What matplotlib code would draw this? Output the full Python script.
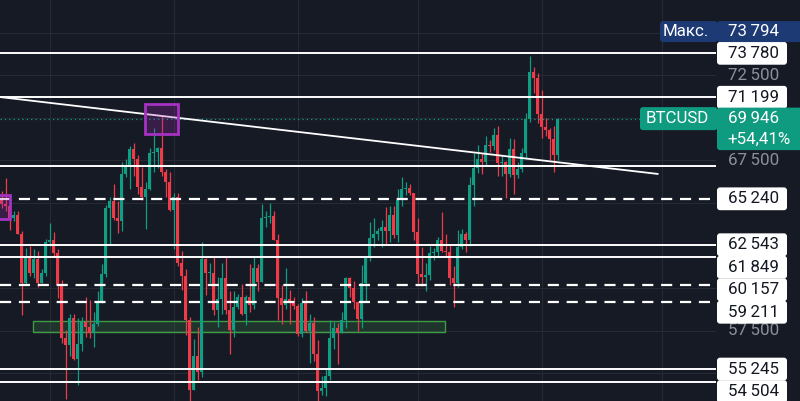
import matplotlib.pyplot as plt
from matplotlib.patches import Rectangle, FancyBboxPatch

# BTCUSD daily candles, 19 Jun .. 5 Nov (index = day number)
opens = [65150, 64960, 64830, 64100, 64260, 63180, 60280, 61800, 60860, 61700,
         60320, 60890, 62680, 62850, 62030, 60200, 57040, 56650, 58230, 55850,
         56700, 58000, 57700, 57360, 57900, 59200, 60800, 64700, 65100, 64100,
         63950, 66700, 67150, 68190, 67600, 65950, 65370, 65800, 67900, 68000,
         68250, 66800, 66200, 64600, 65350, 61500, 60700, 58100, 54000, 56000,
         55100, 61700, 60900, 60900, 58700, 59350, 60600, 58700, 57550, 58900,
         59500, 58450, 59500, 59000, 61150, 60380, 64100, 64180, 64250, 62800,
         59400, 59000, 59350, 59100, 58950, 57300, 59100, 57500, 57970, 56150,
         53950, 54150, 54850, 57050, 57650, 57350, 58130, 60570, 60000, 59190,
         58200, 60300, 61760, 62950, 63200, 63350, 63580, 63330, 64300, 63140,
         65180, 65800, 65880, 65600, 63300, 60800, 60630, 60750, 62070, 62100,
         62800, 62200, 62130, 60580, 60300, 62400, 63200, 62850, 66050, 67050,
         67600, 67400, 68400, 68360, 69000, 67360, 67380, 66680, 68160, 66640,
         67000, 67940, 69900, 72700, 72330, 70200, 69480, 69300, 68750, 67800]
highs = [65700, 66480, 65070, 64520, 64520, 63370, 62350, 62480, 62290, 62200,
         61130, 62900, 63820, 63280, 62270, 60500, 57520, 58470, 58470, 58240,
         58300, 59450, 59320, 58600, 59850, 61400, 64900, 65350, 66100, 65100,
         67400, 67600, 68350, 68500, 67800, 67100, 66200, 68200, 69400, 68300,
         70080, 66980, 66800, 65600, 65600, 62200, 61100, 58300, 57000, 57700,
         62700, 61750, 61450, 61800, 60650, 61500, 61800, 59800, 59800, 59650,
         60250, 59600, 61400, 61800, 61400, 64950, 64500, 65000, 64500, 63200,
         60200, 61200, 59900, 59450, 59050, 59400, 59800, 58500, 58300, 56950,
         54850, 55300, 58100, 58000, 57950, 58600, 60650, 60650, 60400, 59200,
         61350, 61800, 63850, 64100, 63550, 64000, 64750, 64800, 64800, 65800,
         66500, 66250, 66100, 65600, 64100, 62400, 61450, 62450, 62350, 63000,
         64450, 63150, 62500, 61300, 63400, 63450, 63300, 66500, 67900, 68400,
         67900, 68950, 68700, 69400, 69500, 67800, 67450, 68800, 68750, 67400,
         68250, 70250, 73620, 72950, 72650, 71600, 70000, 69400, 69500, 70000]
lows = [64700, 64550, 63400, 63930, 63180, 58400, 60260, 60720, 60620, 60080,
        60300, 60700, 62450, 61830, 59430, 56800, 53500, 56030, 55790, 54300,
        56300, 57150, 57050, 56540, 57770, 59150, 60650, 62500, 64000, 63250,
        63350, 66500, 65800, 66600, 65500, 65150, 63450, 65770, 66800, 67050,
        66600, 65350, 64500, 62300, 61300, 59900, 57250, 49000, 54000, 54600,
        54800, 59600, 60300, 58400, 57700, 58500, 58500, 56150, 57100, 58800,
        58400, 57850, 58600, 58800, 59800, 60350, 63600, 63800, 62800, 58100,
        57900, 58800, 57900, 58800, 57200, 57150, 57400, 55600, 55700, 52550,
        53750, 53650, 54600, 56400, 55550, 57350, 57650, 59500, 58750, 57500,
        57650, 59200, 61600, 62400, 62800, 62400, 62600, 62700, 62950, 62700,
        64800, 65450, 65450, 62850, 60300, 60100, 59850, 60500, 61650, 61900,
        62100, 61850, 60200, 58900, 60050, 62300, 62100, 62450, 64800, 66750,
        66700, 67150, 68000, 68100, 66600, 66600, 65300, 66500, 65550, 66450,
        66800, 67600, 69750, 71450, 69700, 68800, 68900, 67500, 66800, 67500]
closes = opens[1:] + [69946]

# drawings
solid_levels = [73780, 71199, 67160, 62543, 61849, 55245, 54504]
dashed_levels = [65240, 60157, 59211]
tagged_levels = [73780, 71199, 65240, 62543, 61849, 60157, 59211, 55245, 54504]
last_price = 69946
change_text = "+54,41%"
max_price = 73794
grid_prices = [55000, 57500, 60000, 62500, 65000, 67500, 70000, 72500, 75000]
scale_labels = [72500, 67500, 57500]
month_days = [12, 43, 74, 104, 135, 165]
trend_days = [-1, 164]
trend_prices = [71230, 66700]
green_zone = (7.85, 110.85, 57400, 58080)
purple_zones = [(35.85, 44.1, 69043, 70804), (-3, 2.2, 64050, 65460)]

bg = "#161a25"
up_col = "#0f9d84"
down_col = "#ee3b48"
font = ["Roboto", "DejaVu Sans"]

fig = plt.figure(figsize=(8, 4.01), dpi=100, facecolor=bg)
ax = fig.add_axes([0, 0, 716 / 800, 1])
ax.set_facecolor(bg)
ax.set_xlim(-0.4, 178.6)
ax.set_ylim(53371, 76909)
ax.axis("off")

for p in grid_prices:
    ax.axhline(p, color="#252a35", lw=0.8, zorder=0)
for d in month_days:
    ax.axvline(d, color="#252a35", lw=0.8, zorder=0)

x0, x1, y0, y1 = green_zone
ax.add_patch(Rectangle((x0, y0), x1 - x0, y1 - y0, facecolor="#4caf50", alpha=0.18,
                       edgecolor="none", zorder=1))
ax.add_patch(Rectangle((x0, y0), x1 - x0, y1 - y0, facecolor="none",
                       edgecolor="#3f9a45", lw=1.0, zorder=1))

# candles
days = list(range(len(opens)))
cols = [up_col if c >= o else down_col for o, c in zip(opens, closes)]
bottoms = [min(o, c) for o, c in zip(opens, closes)]
heights = [max(abs(c - o), 30) for o, c in zip(opens, closes)]
ax.vlines(days, lows, highs, colors=cols, lw=0.9, zorder=2)
ax.bar(days, heights, bottom=bottoms, width=0.82, color=cols, zorder=3)

for p in solid_levels:
    ax.axhline(p, color="white", lw=1.4, zorder=4)
for p in dashed_levels:
    ax.axhline(p, color="white", lw=1.6, ls=(0, (5, 3.5)), zorder=4)
ax.axhline(last_price, color=up_col, lw=0.9, ls=(0, (1, 2.5)), zorder=4)
ax.plot(trend_days, trend_prices, color="white", lw=1.3, zorder=4, clip_on=True)

for z in purple_zones:
    x0, x1, y0, y1 = z
    ax.add_patch(Rectangle((x0, y0), x1 - x0, y1 - y0, facecolor="#9c27b0", alpha=0.25,
                           edgecolor="none", zorder=5))
    ax.add_patch(Rectangle((x0, y0), x1 - x0, y1 - y0, facecolor="none",
                           edgecolor="#a532c2", lw=2.0, zorder=5))

# price scale, in pixel units
ax2 = fig.add_axes([716 / 800, 0, 84 / 800, 1])
ax2.set_xlim(0, 84)
ax2.set_ylim(0, 401)
ax2.axis("off")


def px(price):
    return ax.transData.transform((0, price))[1]


def fmt(v):
    return f"{v:,}".replace(",", "\u2009")


def box(xa, xb, yc, h, color, z=6):
    ax2.add_patch(FancyBboxPatch((xa, yc - h / 2), xb - xa, h,
                                 boxstyle="round,pad=0,rounding_size=3",
                                 facecolor=color, edgecolor="none",
                                 clip_on=False, zorder=z))


for p in scale_labels:
    ax2.text(11.5, px(p), fmt(p), color="#8b909b", fontsize=12.2, family=font,
             ha="left", va="center")

prev = None
for p in sorted(tagged_levels, reverse=True):
    y = px(p)
    if prev is not None and prev - y < 22.5:
        y = prev - 22.5
    prev = y
    box(1, 71, y, 22.8, "white")
    ax2.text(11.5, y, fmt(p), color="#131722", fontsize=12.2, family=font,
             ha="left", va="center", zorder=7)

# max marker
ym = px(max_price) + 21.5
box(-56, 1.5, ym, 21, "#1d3a74")
box(1, 90, ym, 21, "#1d3a74")
ax2.text(-7, ym, "Макс.", color="white", fontsize=12.2, family=font,
         ha="right", va="center", zorder=7)
ax2.text(11.5, ym, fmt(max_price), color="white", fontsize=12.2, family=font,
         ha="left", va="center", zorder=7)

# last price
yl = px(last_price)
box(-76, 1.5, yl, 23, "#0f9b80")
ax2.add_patch(FancyBboxPatch((1, yl - 31.5), 90, 42.5,
                             boxstyle="round,pad=0,rounding_size=3",
                             facecolor="#0f9b80", edgecolor="none",
                             clip_on=False, zorder=6))
ax2.text(-7, yl, "BTCUSD", color="white", fontsize=12.2, family=font,
         ha="right", va="center", zorder=7)
ax2.text(11.5, yl, fmt(last_price), color="white", fontsize=12.2, family=font,
         ha="left", va="center", zorder=7)
ax2.text(11.5, yl - 20.5, change_text, color="white", fontsize=12.2, family=font,
         ha="left", va="center", zorder=7)

fig.savefig("out.png", dpi=100, facecolor=bg)
